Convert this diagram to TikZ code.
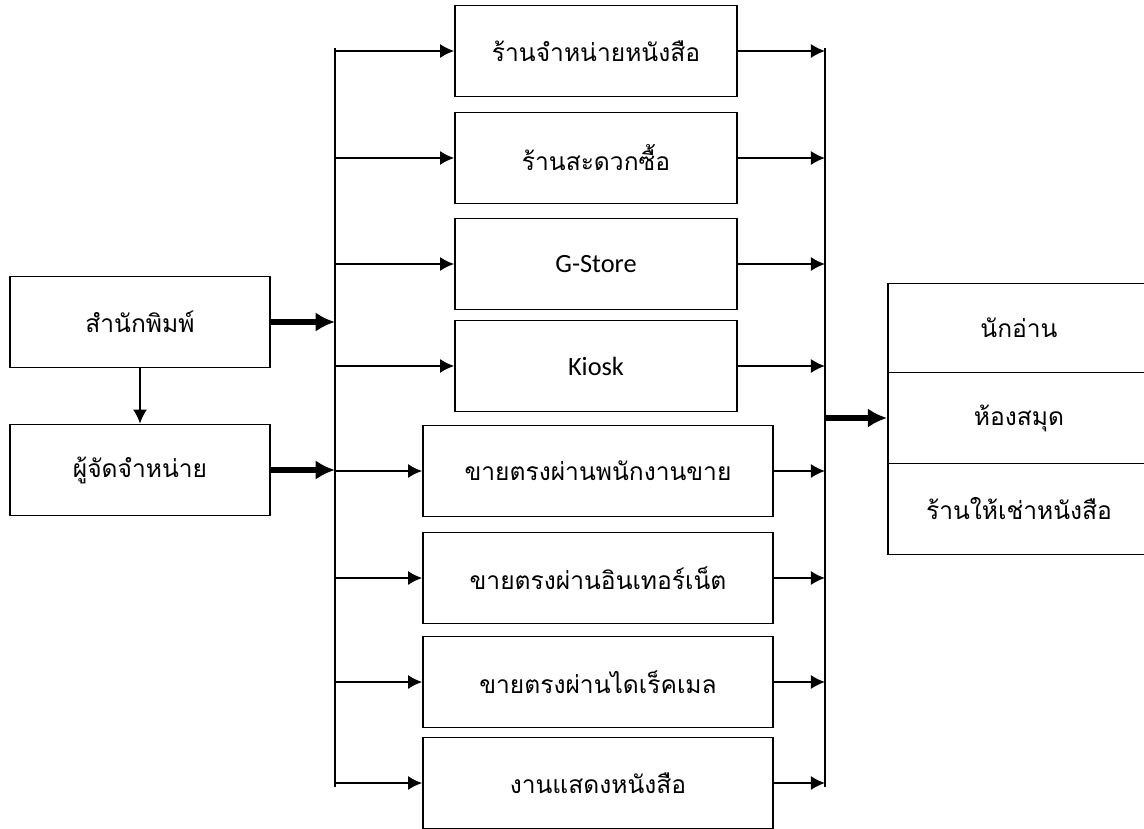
\documentclass[tikz,border=0pt]{standalone}
\usepackage{fontspec}
\newfontfamily\thaifont[Script=Thai]{Loma}
\newfontfamily\latinfont{Carlito}
\usetikzlibrary{arrows.meta}

\begin{document}
\begin{tikzpicture}[x=0.02cm, y=-0.02cm,
    box/.style={draw, line width=1pt, inner sep=0pt, minimum height=1.82cm,
                font=\thaifont\fontsize{14}{16}\selectfont},
    latinbox/.style={box, font=\latinfont\fontsize{15}{18}\selectfont},
    thinarrow/.style={line width=1pt, -{Latex[length=8pt,width=8pt]}},
    thickarrow/.style={line width=3pt, -{Latex[length=11pt,width=11pt]}}]

    \clip (0,0) rectangle (1144,829);

    % publisher and distributor
    \node[box, minimum width=5.2cm] (pub) at (140,322) {สำนักพิมพ์};
    \node[box, minimum width=5.2cm] (dist) at (140,470) {ผู้จัดจำหน่าย};
    \draw[thinarrow] (pub.south) -- (dist.north);

    % channels
    \node[box, minimum width=5.64cm] (s1) at (596,51) {ร้านจำหน่ายหนังสือ};
    \node[box, minimum width=5.64cm] (s2) at (596,158) {ร้านสะดวกซื้อ};
    \node[latinbox, minimum width=5.64cm] (s3) at (596,264) {G-Store};
    \node[latinbox, minimum width=5.64cm] (s4) at (596,366) {Kiosk};
    \node[box, minimum width=7cm] (s5) at (598,471) {ขายตรงผ่านพนักงานขาย};
    \node[box, minimum width=7cm] (s6) at (598,578) {ขายตรงผ่านอินเทอร์เน็ต};
    \node[box, minimum width=7cm] (s7) at (598,682) {ขายตรงผ่านไดเร็คเมล};
    \node[box, minimum width=7cm] (s8) at (598,783) {งานแสดงหนังสือ};

    % readers
    \node[box, minimum width=5.24cm, minimum height=1.78cm] (r1) at (1019,328) {นักอ่าน};
    \node[box, minimum width=5.24cm, minimum height=1.82cm] (r2) at (1019,418) {ห้องสมุด};
    \node[box, minimum width=5.24cm, minimum height=1.82cm] (r3) at (1019,509) {ร้านให้เช่าหนังสือ};

    % bus lines
    \coordinate (lt) at (335,48);
    \coordinate (lb) at (335,787);
    \coordinate (rt) at (825,48);
    \coordinate (rb) at (825,787);
    \draw[line width=1pt] (lt) -- (lb);
    \draw[line width=1pt] (rt) -- (rb);

    \draw[thickarrow] (pub.east) -- (lt |- pub.east);
    \draw[thickarrow] (dist.east) -- (lt |- dist.east);

    \foreach \s in {s1,s2,s3,s4,s5,s6,s7,s8} {
        \draw[thinarrow] (lt |- \s.west) -- (\s.west);
        \draw[thinarrow] (\s.east) -- (rt |- \s.east);
    }

    \draw[thickarrow] (rt |- r2.west) -- (r2.west);
\end{tikzpicture}
\end{document}
